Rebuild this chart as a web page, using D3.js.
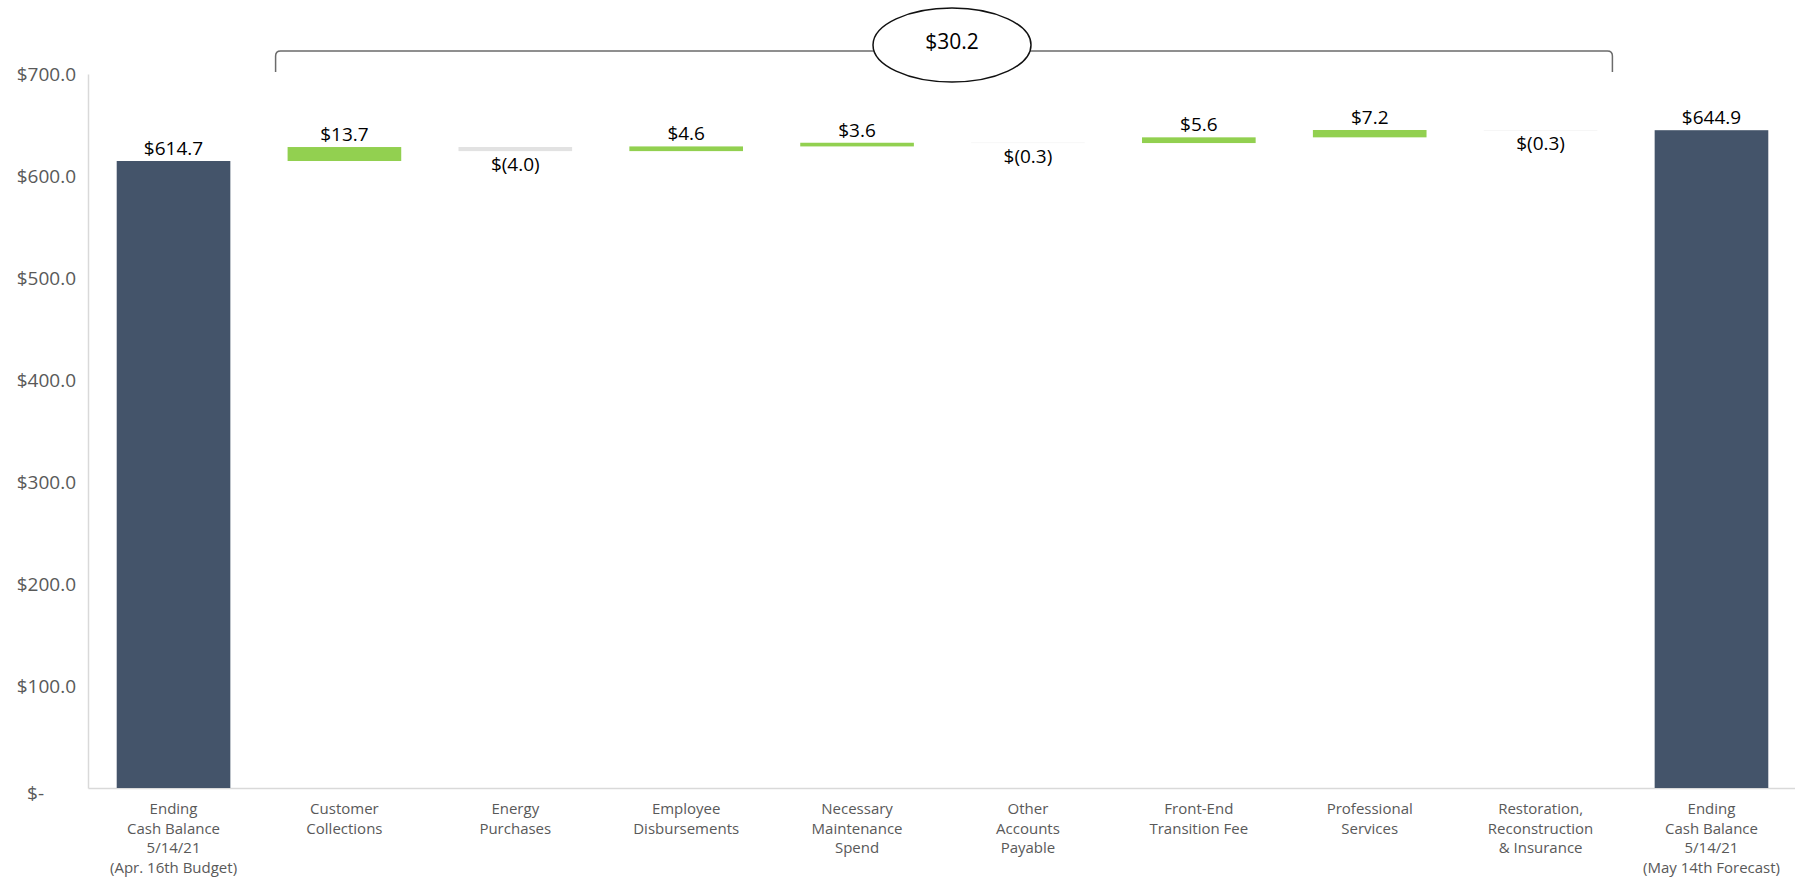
<!DOCTYPE html>
<html>
<head>
<meta charset="utf-8">
<script src="https://cdn.jsdelivr.net/npm/d3@7"></script>
<style>
  body { margin: 0; background: #fff; }
  svg { display: block; font-family: "Open Sans", "Noto Sans", sans-serif; }
</style>
</head>
<body>
<svg id="chart"></svg>
<script>
// chart data
const categories = [
    ['Ending', 'Cash Balance', '5/14/21', '(Apr. 16th Budget)'],
    ['Customer', 'Collections'],
    ['Energy', 'Purchases'],
    ['Employee', 'Disbursements'],
    ['Necessary', 'Maintenance', 'Spend'],
    ['Other', 'Accounts', 'Payable'],
    ['Front-End', 'Transition Fee'],
    ['Professional', 'Services'],
    ['Restoration,', 'Reconstruction', '& Insurance'],
    ['Ending', 'Cash Balance', '5/14/21', '(May 14th Forecast)']
]
const values = [614.7, 13.7, -4.0, 4.6, 3.6, -0.3, 5.6, 7.2, -0.3, 644.9]
const kinds = ['total', 'delta', 'delta', 'delta', 'delta', 'delta', 'delta', 'delta', 'delta', 'total']
const yTicks = [0, 100, 200, 300, 400, 500, 600, 700]
const bracketTotal = 30.2

const W = 1795, H = 879
const FONT = '"Open Sans", "Noto Sans", sans-serif'

const svg = d3.select('#chart')
    .attr('width', W)
    .attr('height', H)

// build waterfall steps
let running = 0
const steps = values.map((v, i) => {
    let y0, y1
    if (kinds[i] === 'total') {
        y0 = 0; y1 = v; running = v
    } else {
        y0 = running; y1 = running + v; running = y1
    }
    return {i, v, kind: kinds[i], lo: Math.min(y0, y1), hi: Math.max(y0, y1)}
})

// scales
const xScale = d3.scaleBand()
    .domain(d3.range(categories.length))
    .range([88, 1797])
    .paddingInner(0.335)
    .paddingOuter(0.168)

const yScale = d3.scaleLinear()
    .domain([0, 700])
    .range([788, 74])

// y axis
const yAxis = d3.axisLeft(yScale)
    .tickValues(yTicks)
    .tickSize(0)
    .tickPadding(12)
    .tickFormat(d => d === 0 ? '$-' : '$' + d3.format('.1f')(d))

const gy = svg.append('g')
    .attr('transform', 'translate(88,0)')
    .call(yAxis)
    .attr('font-family', FONT)
gy.select('.domain').attr('stroke', '#d9d9d9').attr('stroke-width', 1.5)
gy.selectAll('text')
    .attr('fill', '#595959')
    .style('font-size', '19px')
    .attr('dy', '0.35em')
gy.selectAll('.tick').filter(d => d === 0).select('text').attr('x', -44).attr('dy', '0.6em')

// x axis (baseline + multi-line labels)
const xAxis = d3.axisBottom(xScale).tickSize(0).tickFormat('')
const gx = svg.append('g')
    .attr('transform', `translate(0,${yScale(0)})`)
    .call(xAxis)
    .attr('font-family', FONT)
gx.select('.domain').attr('stroke', '#d9d9d9').attr('stroke-width', 1.5)

gx.selectAll('.tick').each(function(d) {
    const t = d3.select(this).append('text')
        .attr('fill', '#595959')
        .attr('text-anchor', 'middle')
        .style('font-size', '15px')
    categories[d].forEach((line, k) => {
        t.append('tspan')
            .attr('x', 0)
            .attr('y', 26 + k * 19.5)
            .text(line)
    })
})

// bars
const colorOf = s => s.kind === 'total' ? '#44546a' : (s.v >= 0 ? '#92d050' : '#e2e2e2')

svg.selectAll('.bar')
    .data(steps)
    .join('rect')
    .attr('class', 'bar')
    .attr('x', s => xScale(s.i))
    .attr('y', s => yScale(s.hi))
    .attr('width', xScale.bandwidth())
    .attr('height', s => yScale(s.lo) - yScale(s.hi))
    .attr('fill', colorOf)

// value labels
const fmt = v => v < 0 ? '$(' + d3.format('.1f')(-v) + ')' : '$' + d3.format('.1f')(v)

svg.selectAll('.val')
    .data(steps)
    .join('text')
    .attr('class', 'val')
    .attr('x', s => xScale(s.i) + xScale.bandwidth() / 2)
    .attr('y', s => s.v < 0 ? yScale(s.lo) + 20 : yScale(s.hi) - 6)
    .attr('text-anchor', 'middle')
    .attr('fill', '#000')
    .style('font-size', '19px')
    .text(s => fmt(s.v))

// bracket over the deltas
const bx0 = xScale(1) - 12
const bx1 = xScale(8) + xScale.bandwidth() + 15
const by = 51, byEnd = 72, r = 5
svg.append('path')
    .attr('d', `M${bx0},${byEnd} L${bx0},${by + r} Q${bx0},${by} ${bx0 + r},${by} L${bx1 - r},${by} Q${bx1},${by} ${bx1},${by + r} L${bx1},${byEnd}`)
    .attr('fill', 'none')
    .attr('stroke', '#6b6b6b')
    .attr('stroke-width', 1.5)

const cx = (bx0 + bx1) / 2 + 8
svg.append('ellipse')
    .attr('cx', cx)
    .attr('cy', 45)
    .attr('rx', 79)
    .attr('ry', 37)
    .attr('fill', '#fff')
    .attr('stroke', '#111')
    .attr('stroke-width', 1.5)

svg.append('text')
    .attr('x', cx)
    .attr('y', 42)
    .attr('dy', '0.35em')
    .attr('text-anchor', 'middle')
    .style('font-size', '21px')
    .attr('fill', '#000')
    .text('$' + d3.format('.1f')(bracketTotal))
</script>
</body>
</html>
